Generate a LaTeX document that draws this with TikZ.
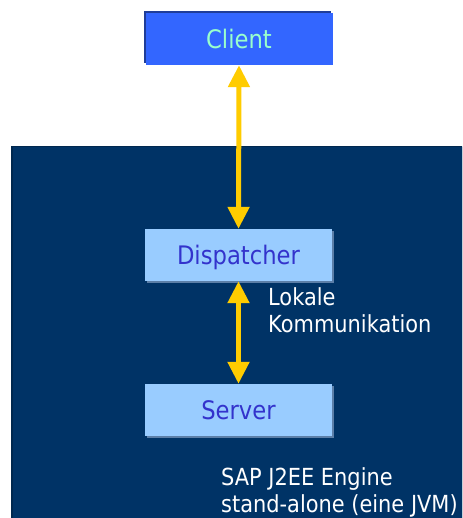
\documentclass[tikz,border=0pt]{standalone}
\usepackage{fontspec}
\setmainfont{DejaVu Sans}
\newfontfamily\narrowsans[FakeStretch=0.89]{DejaVu Sans}
\usetikzlibrary{arrows.meta,shadows}
\definecolor{navy}{HTML}{003366}
\definecolor{navyedge}{HTML}{00284F}
\definecolor{clientblue}{HTML}{3366FF}
\definecolor{clientedge}{HTML}{1F3D99}
\definecolor{clienttext}{HTML}{99FFCC}
\definecolor{lightbox}{HTML}{99CCFF}
\definecolor{lightedge}{HTML}{5C7FA8}
\definecolor{boxtext}{HTML}{3333CC}
\definecolor{arrowyellow}{HTML}{FFCC00}
\tikzset{
  basebox/.style={rectangle, minimum width=187pt, minimum height=52pt, inner sep=0pt,
    font=\narrowsans\fontsize{25.5pt}{30pt}\selectfont, text height=18.6pt, text depth=0pt},
  clientbox/.style={basebox, fill=clientblue, text=clienttext,
    drop shadow={shadow xshift=-1.5pt, shadow yshift=1.5pt, fill=clientedge, opacity=1}},
  innerbox/.style={basebox, fill=lightbox, text=boxtext,
    drop shadow={shadow xshift=1.5pt, shadow yshift=-1.5pt, fill=lightedge, opacity=1}},
  whitelabel/.style={text=white, inner sep=0pt, align=left, anchor=north west,
    font=\narrowsans\fontsize{23.5pt}{27pt}\selectfont},
  biarrow/.style={draw=arrowyellow, line width=5pt,
    {Triangle[width=21pt,length=22pt]}-{Triangle[width=21pt,length=22pt]}}
}
\begin{document}
\begin{tikzpicture}[x=1pt,y=-1pt]
\useasboundingbox (0,0) rectangle (462,518);
\clip (0,0) rectangle (462,518);
\fill[white] (0,0) rectangle (462,518);
% engine region
\fill[navyedge] (11,146) rectangle (470,530);
\fill[navy] (12.5,147.5) rectangle (470,530);
% boxes
\node[clientbox] (client) at (239,39) {Client};
\node[innerbox] (disp) at (238.5,255) {Dispatcher};
\node[innerbox] (server) at (238.5,410) {Server};
% arrows
\draw[biarrow] (client.south) -- (disp.north);
\draw[biarrow] (disp.south) -- (server.north);
% labels
\node[whitelabel] (lokal) at (268,287) {Lokale\\Kommunikation};
\node[whitelabel] (engine) at (221,467) {SAP J2EE Engine\\stand-alone (eine JVM)};
\end{tikzpicture}
\end{document}
